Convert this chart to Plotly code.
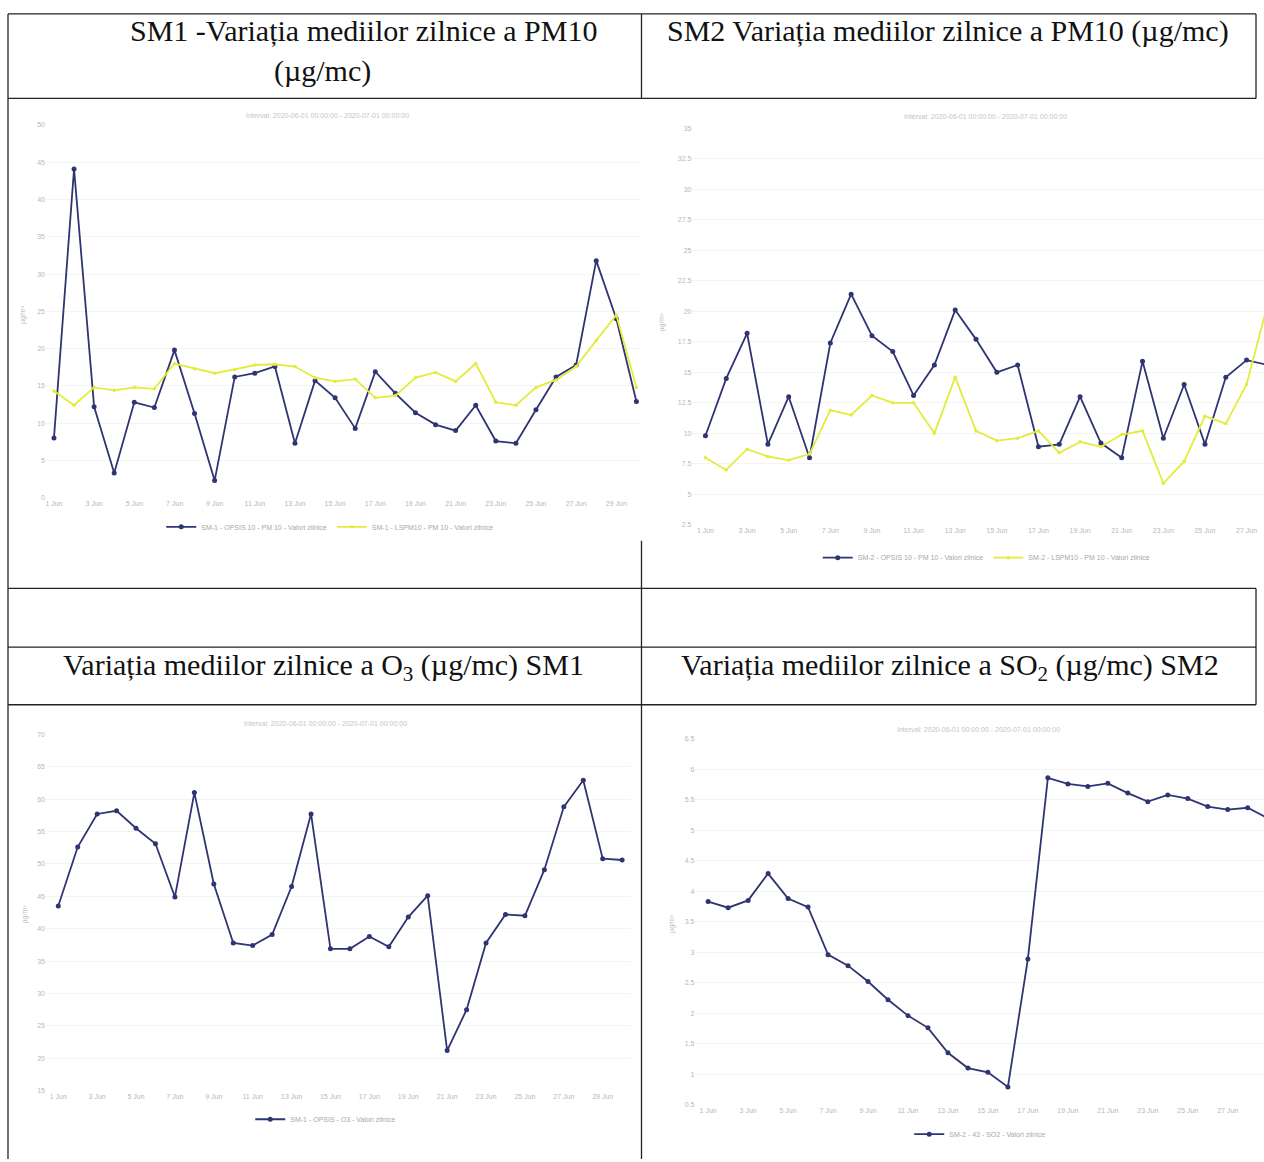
import plotly.graph_objects as go

# ---------------- data ----------------
days30 = list(range(1, 31))
days28 = list(range(1, 29))
days29 = list(range(1, 30))
tick_days = list(range(1, 30, 2))
tick_labels = [f"{d} Jun" for d in tick_days]

pm10_sm1_opsis = [8.0, 44.1, 12.2, 3.3, 12.8, 12.1, 19.8, 11.3, 2.3, 16.2, 16.7, 17.6, 7.3, 15.7, 13.4,
                  9.3, 16.9, 14.0, 11.4, 9.8, 9.0, 12.4, 7.6, 7.3, 11.8, 16.2, 17.8, 31.8, 24.0, 12.9]
pm10_sm1_lspm = [14.3, 12.4, 14.8, 14.4, 14.8, 14.6, 18.0, 17.3, 16.7, 17.2, 17.8, 17.9, 17.6, 16.1, 15.6,
                 15.9, 13.4, 13.7, 16.1, 16.8, 15.6, 18.0, 12.8, 12.4, 14.8, 15.8, 17.6, 21.1, 24.5, 14.8]

pm10_sm2_opsis = [9.8, 14.5, 18.2, 9.1, 13.0, 8.0, 17.4, 21.4, 18.0, 16.7, 13.1, 15.6, 20.1, 17.7,
                  15.0, 15.6, 8.9, 9.1, 13.0, 9.2, 8.0, 15.9, 9.6, 14.0, 9.1, 14.6, 16.0, 15.6]
pm10_sm2_lspm = [8.0, 7.0, 8.7, 8.1, 7.8, 8.3, 11.9, 11.5, 13.1, 12.5, 12.5, 10.0, 14.6, 10.2,
                 9.4, 9.6, 10.2, 8.4, 9.3, 8.9, 9.9, 10.2, 5.9, 7.7, 11.4, 10.8, 14.0, 20.5]

o3_sm1 = [43.5, 52.6, 57.7, 58.2, 55.5, 53.1, 44.9, 61.0, 46.9, 37.8, 37.4, 39.1, 46.5, 57.7, 36.9,
          36.9, 38.8, 37.2, 41.8, 45.1, 21.2, 27.5, 37.8, 42.2, 42.0, 49.1, 58.8, 62.9, 50.8, 50.6]

so2_sm2 = [3.83, 3.73, 3.85, 4.29, 3.88, 3.74, 2.96, 2.78, 2.52, 2.22, 1.96, 1.76, 1.35, 1.10, 1.03,
           0.79, 2.89, 5.86, 5.76, 5.72, 5.77, 5.61, 5.47, 5.58, 5.52, 5.39, 5.34, 5.37, 5.20]

interval_text = "Interval: 2020-06-01 00:00:00 - 2020-07-01 00:00:00"

# ---------------- layout helpers ----------------
W, H = 1264, 1162
def px(x): return x / W
def py(y): return 1 - y / H

BLUE = "#2f3472"
YELLOW = "#e3ec3a"
TICKC = "#b8b8b8"
TICKF = dict(family="Liberation Sans", size=7, color=TICKC)

fig = go.Figure()

def add_axes(i, L, R, T, B, d1, step, yr, dtick):
    xa = "xaxis" if i == 1 else f"xaxis{i}"
    ya = "yaxis" if i == 1 else f"yaxis{i}"
    xr = [1 + (L - d1) / step, 1 + (R - d1) / step]
    fig.update_layout(**{
        xa: dict(domain=[px(L), px(R)], range=xr, anchor=f"y{i if i > 1 else ''}",
                 tickvals=tick_days, ticktext=tick_labels, tickfont=TICKF,
                 showgrid=False, zeroline=False, showline=False, ticks=""),
        ya: dict(domain=[py(B), py(T)], range=yr, anchor=f"x{i if i > 1 else ''}",
                 dtick=dtick, tick0=yr[0], tickfont=TICKF, showgrid=True,
                 gridcolor="#f4f4f4", gridwidth=1, zeroline=False, showline=False, ticks=""),
    })

add_axes(1, 45, 641, 121.7, 496.7, 53.0, 20.1, [0, 50], 5)
add_axes(2, 692, 1264, 125.0, 524.0, 705.0, 20.83, [2.5, 35], 2.5)
add_axes(3, 45, 630, 734.7, 1093.3, 57.3, 19.46, [15, 70], 5)
add_axes(4, 695, 1264, 739.3, 1107.3, 707.7, 20.0, [0.5, 6.5], 0.5)

def blue_trace(x, y, name, i, leg):
    return go.Scatter(x=x, y=y, name=name, mode="lines+markers",
                      line=dict(color=BLUE, width=1.8),
                      marker=dict(color=BLUE, size=5),
                      xaxis=f"x{i if i > 1 else ''}", yaxis=f"y{i if i > 1 else ''}", legend=leg)

def yellow_trace(x, y, name, i, leg):
    return go.Scatter(x=x, y=y, name=name, mode="lines+markers",
                      line=dict(color=YELLOW, width=1.8),
                      marker=dict(color=YELLOW, size=3.5),
                      xaxis=f"x{i if i > 1 else ''}", yaxis=f"y{i if i > 1 else ''}", legend=leg)

fig.add_trace(blue_trace(days30, pm10_sm1_opsis, "SM-1 - OPSIS 10 - PM 10 - Valori zilnice", 1, "legend"))
fig.add_trace(yellow_trace(days30, pm10_sm1_lspm, "SM-1 - LSPM10 - PM 10 - Valori zilnice", 1, "legend"))
fig.add_trace(blue_trace(days28, pm10_sm2_opsis, "SM-2 - OPSIS 10 - PM 10 - Valori zilnice", 2, "legend2"))
fig.add_trace(yellow_trace(days28, pm10_sm2_lspm, "SM-2 - LSPM10 - PM 10 - Valori zilnice", 2, "legend2"))
fig.add_trace(blue_trace(days30, o3_sm1, "SM-1 - OPSIS - O3 - Valori zilnice", 3, "legend3"))
fig.add_trace(blue_trace(days29, so2_sm2, "SM-2 - 43 - SO2 - Valori zilnice", 4, "legend4"))

legfont = dict(family="Liberation Sans", size=7, color="#a8a8a8")
def leg(xc, yc):
    return dict(x=px(xc), y=py(yc), xanchor="center", yanchor="middle", orientation="h",
                font=legfont, bgcolor="rgba(0,0,0,0)", itemwidth=30)

fig.update_layout(
    width=W, height=H, margin=dict(l=0, r=0, t=0, b=0),
    paper_bgcolor="white", plot_bgcolor="white", showlegend=True,
    legend=leg(329, 526), legend2=leg(986, 557), legend3=leg(325, 1122), legend4=leg(980, 1137),
)

# ---------------- texts ----------------
TITLEF = dict(family="Liberation Serif", size=30, color="#111111")
anns = [
    dict(text="SM1 -Variația mediilor zilnice a PM10", x=363, y=27),
    dict(text="(µg/mc)", x=322, y=67),
    dict(text="SM2 Variația mediilor zilnice a PM10 (µg/mc)", x=948, y=27),
    dict(text="Variația mediilor zilnice a O<sub>3</sub> (µg/mc) SM1", x=323, y=667),
    dict(text="Variația mediilor zilnice a SO<sub>2</sub> (µg/mc) SM2", x=950, y=667),
]
for a in anns:
    fig.add_annotation(text=a["text"], x=px(a["x"]), y=py(a["y"]), xref="paper", yref="paper",
                       showarrow=False, font=TITLEF, xanchor="center", yanchor="middle")

SUBF = dict(family="Liberation Sans", size=7, color="#c4c4c4")
for (xc, yc) in [(327, 112), (985, 113), (325, 724), (978, 730)]:
    fig.add_annotation(text=interval_text, x=px(xc), y=py(yc), xref="paper", yref="paper",
                       showarrow=False, font=SUBF, xanchor="center", yanchor="middle")

for (xc, yc) in [(22, 312), (662, 320), (25, 915), (672, 925)]:
    fig.add_annotation(text="µg/m³", x=px(xc), y=py(yc), xref="paper", yref="paper",
                       showarrow=False, font=dict(family="Liberation Sans", size=7, color="#c0c0c0"),
                       textangle=-90, xanchor="center", yanchor="middle")

# ---------------- table borders ----------------
LC = "#222222"
lines = [
    (7, 10, 1256, 10), (7, 95, 1256, 95), (7, 588, 1256, 588), (7, 647, 1256, 647), (7, 705, 1256, 705),
    (7, 10, 7, 1162), (1256, 10, 1256, 95), (1256, 588, 1256, 705),
    (641, 10, 641, 95), (641, 540, 641, 1162),
]
for (x0, y0, x1, y1) in lines:
    fig.add_shape(type="line", x0=px(x0), y0=py(y0), x1=px(x1), y1=py(y1), xref="paper", yref="paper",
                  line=dict(color=LC, width=1.3))

fig.write_html("out.html", config={"displayModeBar": False},
               post_script="document.body.style.margin='0';document.body.style.overflow='hidden';")
